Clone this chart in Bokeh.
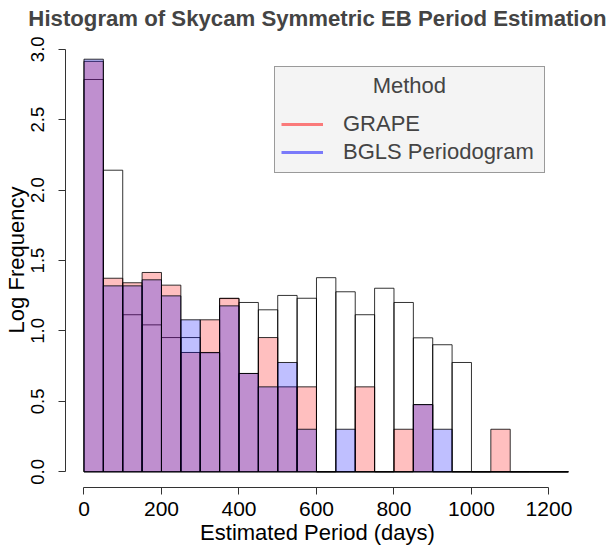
from bokeh.plotting import figure
from bokeh.models import ColumnDataSource, Legend, LegendItem, Range1d, FixedTicker, PrintfTickFormatter
from bokeh.embed import file_html
from bokeh.resources import INLINE

# ---- data ----
bin_left = [0, 50, 100, 150, 200, 250, 300, 350, 400, 450, 500, 550, 600,
            650, 700, 750, 800, 850, 900, 950, 1000, 1050, 1100, 1150, 1200]
bin_width = 50

all_log = [2.785, 2.141, 1.115, 1.043, 0.953, 0.953, 0.845, 1.230, 1.202, 1.150,
           1.252, 1.232, 1.378, 1.278, 1.115, 1.303, 1.202, 0.951, 0.902, 0.776,
           0, 0, 0, 0, 0]
grape_log = [2.914, 1.374, 1.342, 1.415, 1.325, 0.847, 1.079, 1.232, 0.698, 0.953,
             0.603, 0.603, 0, 0, 0.603, 0, 0.302, 0.477, 0, 0,
             0, 0.302, 0, 0, 0]
bgls_log = [2.929, 1.320, 1.320, 1.363, 1.249, 1.079, 0.847, 1.178, 0.698, 0.603,
            0.776, 0.302, 0, 0.302, 0, 0, 0, 0.477, 0.302, 0,
            0, 0, 0, 0, 0]

x_ticks = [0, 200, 400, 600, 800, 1000, 1200]
y_ticks = [0.0, 0.5, 1.0, 1.5, 2.0, 2.5, 3.0]

FONT = "Liberation Sans"
NBSP = "\u00a0"

bin_right = [b + bin_width for b in bin_left]
zeros = [0] * len(bin_left)

p = figure(frame_width=504, frame_height=455, output_backend="svg", toolbar_location=None,
           x_range=Range1d(-47.7, 1253), y_range=Range1d(-0.1115, 3.1186),
           min_border_left=62, min_border_right=40, min_border_bottom=64,
           min_border_top=32)

p.title.text = "Histogram of Skycam Symmetric EB Period Estimation"
p.title.align = "center"
p.title.text_font = FONT
p.title.text_font_size = "22.2px"
p.title.text_font_style = "bold"
p.title.standoff = 4

p.outline_line_color = None
p.xgrid.visible = False
p.ygrid.visible = False
p.background_fill_color = "white"
p.border_fill_color = "white"

src_all = ColumnDataSource(dict(left=bin_left, right=bin_right, bottom=zeros, top=all_log))
src_grape = ColumnDataSource(dict(left=bin_left, right=bin_right, bottom=zeros, top=grape_log))
src_bgls = ColumnDataSource(dict(left=bin_left, right=bin_right, bottom=zeros, top=bgls_log))

p.quad(left="left", right="right", bottom="bottom", top="top", source=src_all,
       fill_color=None, line_color="black", line_width=1, line_alpha=0.8)
p.quad(left="left", right="right", bottom="bottom", top="top", source=src_grape,
       fill_color="red", fill_alpha=0.25, line_color="black", line_width=1, line_alpha=0.8)
p.quad(left="left", right="right", bottom="bottom", top="top", source=src_bgls,
       fill_color="blue", fill_alpha=0.25, line_color="black", line_width=1, line_alpha=0.8)

# legend proxies (hidden line renderers)
r_grape = p.line(x=bin_left, y=grape_log, line_color="red", line_alpha=0.5, line_width=3)
r_bgls = p.line(x=bin_left, y=bgls_log, line_color="blue", line_alpha=0.5, line_width=3)
r_grape.visible = False
r_bgls.visible = False

legend = Legend(items=[LegendItem(label="GRAPE", renderers=[r_grape]),
                       LegendItem(label="BGLS Periodogram", renderers=[r_bgls])],
                location=(209, 314), title=NBSP * 15 + "Method")
legend.title_text_font = FONT
legend.title_text_font_size = "22px"
legend.title_text_font_style = "normal"
legend.title_standoff = 11
legend.label_text_font = FONT
legend.label_text_font_size = "22px"
legend.glyph_width = 42
legend.glyph_height = 28
legend.label_height = 28
legend.label_width = 195
legend.label_standoff = 20
legend.padding = 6
legend.spacing = 0
legend.margin = 0
legend.click_policy = "none"
legend.background_fill_color = "#f4f4f4"
legend.background_fill_alpha = 1
legend.border_line_color = "#404040"
legend.border_line_width = 1
p.add_layout(legend)

for ax in (p.xaxis[0], p.yaxis[0]):
    ax.major_tick_out = 7
    ax.major_tick_in = 0
    ax.minor_tick_out = 0
    ax.minor_tick_in = 0
    ax.axis_line_color = "#333333"
    ax.major_tick_line_color = "#333333"
    ax.major_label_text_font = FONT
    ax.major_label_text_color = "black"
    ax.axis_label_text_font = FONT
    ax.axis_label_text_font_style = "normal"
    ax.axis_label_text_color = "black"

p.xaxis.ticker = FixedTicker(ticks=x_ticks)
p.xaxis.bounds = (x_ticks[0], x_ticks[-1])
p.xaxis.major_label_text_font_size = "21px"
p.xaxis.major_label_standoff = 7
p.xaxis.axis_label = "Estimated Period (days)"
p.xaxis.axis_label_text_font_size = "22px"
p.xaxis.axis_label_standoff = 1

p.yaxis.ticker = FixedTicker(ticks=y_ticks)
p.yaxis.bounds = (y_ticks[0], y_ticks[-1])
p.yaxis.formatter = PrintfTickFormatter(format="%.1f")
p.yaxis.major_label_orientation = "vertical"
p.yaxis.major_label_text_font_size = "18.6px"
p.yaxis.major_label_standoff = 14
p.yaxis.axis_label = "Log Frequency"
p.yaxis.axis_label_text_font_size = "22px"
p.yaxis.axis_label_standoff = 0

open("out.html", "w").write(file_html(p, INLINE))
